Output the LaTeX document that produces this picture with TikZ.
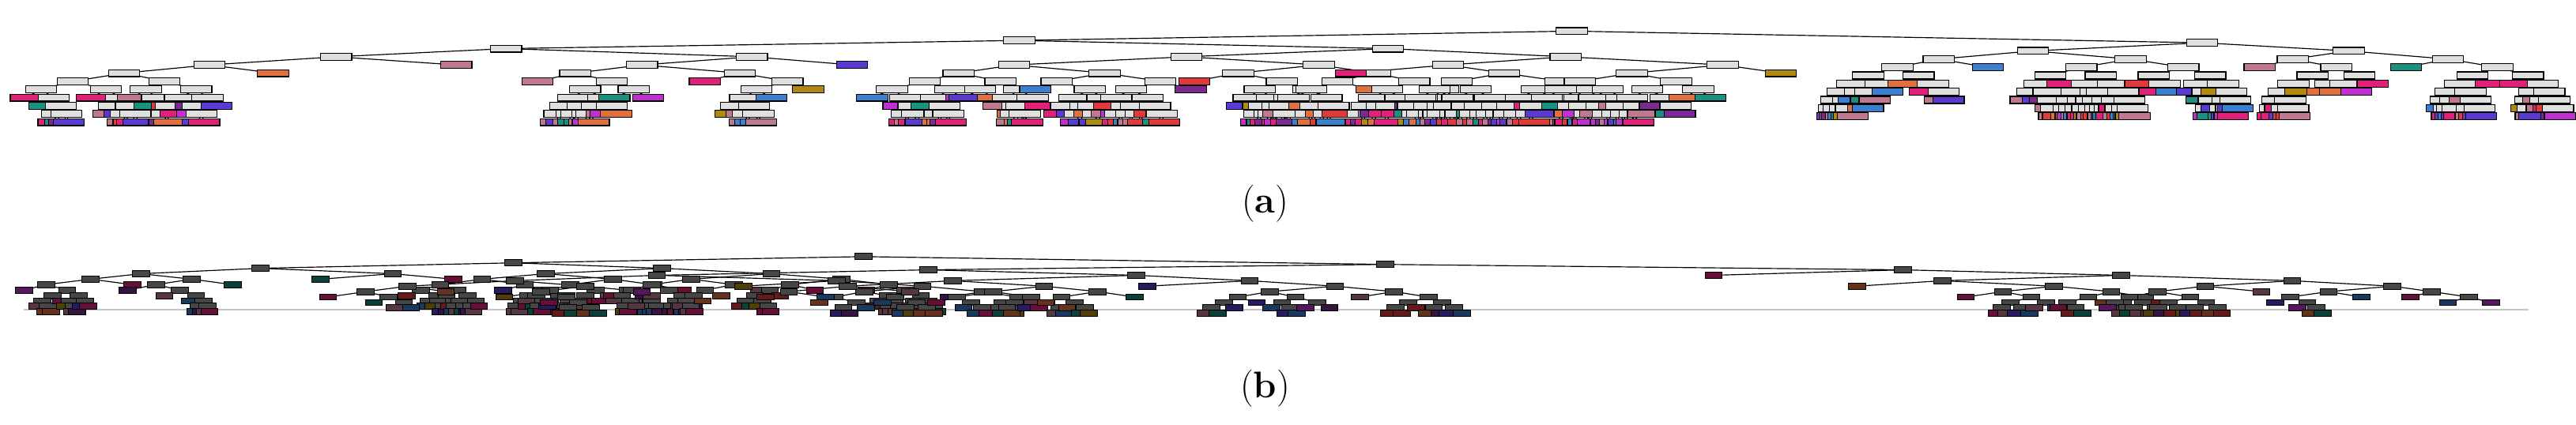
\documentclass[tikz,border=0pt]{standalone}
\usepackage{fontspec}
\definecolor{c1}{HTML}{E03A3A}\definecolor{c2}{HTML}{E0207A}\definecolor{c3}{HTML}{C030D0}
\definecolor{c4}{HTML}{7A2A90}\definecolor{c5}{HTML}{3A7FD0}\definecolor{c6}{HTML}{1A9080}
\definecolor{c7}{HTML}{B08A10}\definecolor{c8}{HTML}{E07040}\definecolor{c9}{HTML}{C07890}
\definecolor{c10}{HTML}{5A3AD0}
\pgfmathdeclarerandomlist{pal}{{c1}{c2}{c3}{c4}{c5}{c6}{c7}{c8}{c9}{c10}{c9}{c2}}
\tikzset{
 anode/.style={draw=black,line width=1.2pt,fill=gray!25,minimum width=40bp,minimum height=9bp,inner sep=0pt},
 bnode/.style={draw=black,line width=1pt,fill=gray!55!black,minimum width=22bp,minimum height=8bp,inner sep=0pt},
 edge/.style={draw=black,line width=1.2pt},
 lab/.style={font=\fontsize{48}{56}\selectfont,inner sep=0pt}
}
\def\treepanel{a}
\def\passno{1}
\newcommand\tnode[5]{%
\begingroup
\pgfmathsetmacro\cx{#1}\pgfmathsetmacro\cy{#2}\pgfmathsetmacro\hw{#3}%
\pgfmathtruncatemacro\dd{#4}%
\pgfmathtruncatemacro\go{(\dd>0)&&(rnd<0.5+0.06*\dd)?1:0}%
\ifnum\go=1
 \ifnum\passno=1 \coordinate (#5) at (\cx,\cy);\else\node[\treepanel node] (#5n) at (\cx,\cy) {};\fi
 \pgfmathsetmacro\xl{\cx-\hw*(0.7+0.6*rnd)}\pgfmathsetmacro\xr{\cx+\hw*(0.7+0.6*rnd)}%
 \pgfmathsetmacro\ny{\cy+\dy}\pgfmathsetmacro\nh{\hw*0.58}%
 \pgfmathtruncatemacro\nd{\dd-1}%
 \tnode{\xl}{\ny}{\nh}{\nd}{#5l}%
 \tnode{\xr}{\ny}{\nh}{\nd}{#5r}%
 \ifnum\passno=1 \draw[edge] (#5) -- (#5l) (#5) -- (#5r);\fi
\else
 \pgfmathrandomitem{\col}{pal}%
 \ifnum\passno=1 \coordinate (#5) at (\cx,\cy);\else
 \if a\treepanel
  \node[anode,fill=\col] (#5n) at (\cx,\cy) {};
 \else
  \node[bnode,fill=\col!45!black] (#5n) at (\cx,\cy) {};
 \fi\fi
\fi
\endgroup}
\newcommand\panel[1]{%
 \def\passno{1}\pgfmathsetseed{#1}\subtrees
 \def\passno{2}\pgfmathsetseed{#1}\subtrees}
\begin{document}
\begin{tikzpicture}[x=1bp,y=-1bp]
\fill[white] (0,0) rectangle (3259,546);
% panel (a)
\def\dy{10.5}
\coordinate (A) at (2020,40);
\coordinate (AL) at (1310,52);
\coordinate (AR) at (2830,55);
\draw[edge] (A) -- (AL) (A) -- (AR);
\node[anode] (An) at (A) {};
\def\subtrees{\tnode{1310}{52}{520}{10}{AL}\tnode{2830}{55}{170}{9}{AR}}
\panel{11}
\node[lab] (la) at (1626,262) {(\textbf{a})};
% panel (b)
\def\treepanel{b}
\def\dy{7}
\draw[gray!45,line width=2pt] (30,398) -- (3250,398);
\coordinate (B) at (1110,330);
\coordinate (BL) at (660,338);
\coordinate (BR) at (1780,340);
\draw[edge] (B) -- (BL) (B) -- (BR);
\node[bnode] (Bn) at (B) {};
\def\subtrees{\tnode{660}{338}{260}{9}{BL}\tnode{1780}{340}{580}{9}{BR}}
\panel{5}
\node[lab] (lb) at (1626,500) {(\textbf{b})};
\end{tikzpicture}
\end{document}
